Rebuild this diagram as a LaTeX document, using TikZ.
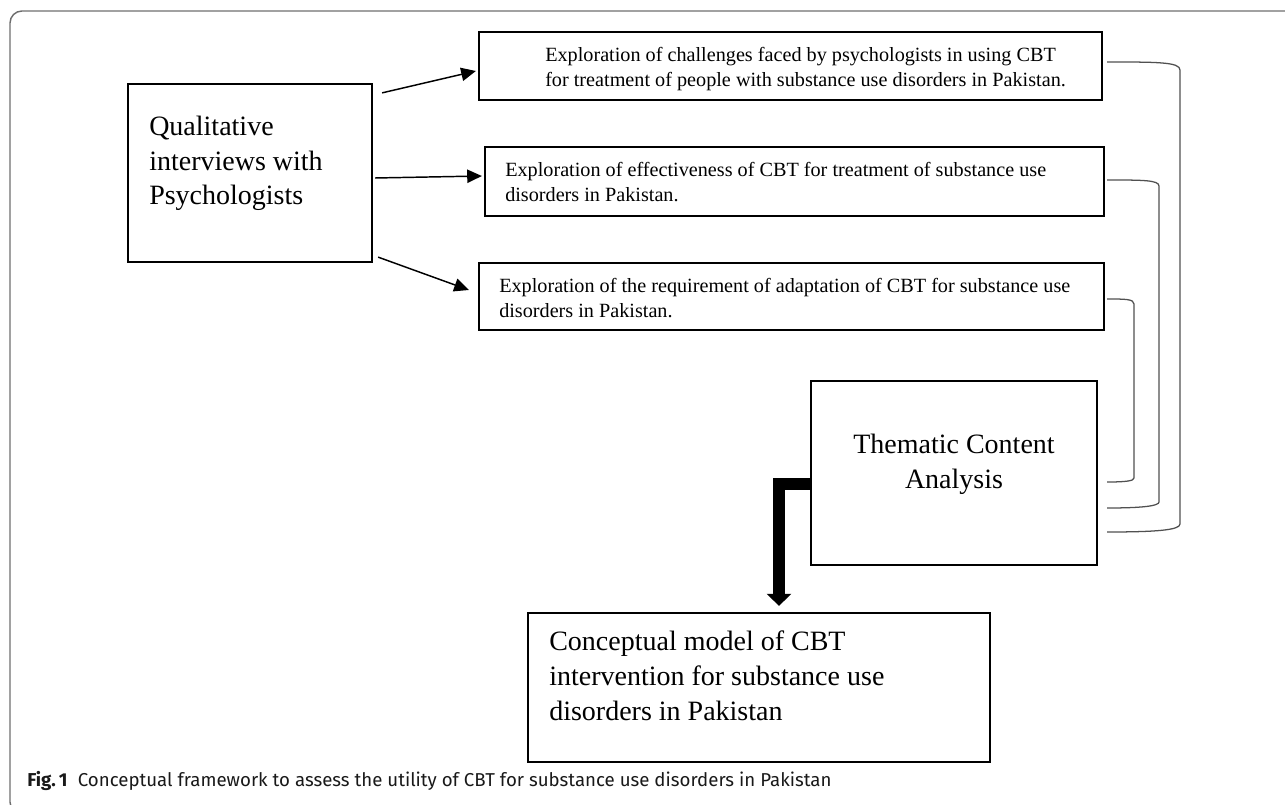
\documentclass[tikz,border=0pt]{standalone}
\usepackage{fontspec}
\setmainfont{Liberation Serif}
\newfontfamily\capfont{Fira Sans}
\usetikzlibrary{arrows.meta,calc,fit}
\definecolor{framecol}{HTML}{6E6E6E}
\definecolor{bracketcol}{HTML}{505050}
\begin{document}
\begin{tikzpicture}[x=0.75pt,y=-0.75pt,
  box/.style={draw=black,line width=1.7pt,inner sep=0pt,fit={#1}},
  bigtxt/.style={font=\fontsize{21}{26.1}\selectfont,inner sep=0pt,align=left},
  smalltxt/.style={font=\fontsize{15.15}{19}\selectfont,inner sep=0pt,align=left},
  thinarrow/.style={line width=1.1pt,-{Triangle[length=11pt,width=10pt]}},
  bracket/.style={draw=bracketcol,line width=0.95pt},
  bigarrow/.style={line width=9pt,-{Triangle[length=9pt,width=18pt]}}]
\useasboundingbox (0,0) rectangle (1285,805);
\clip (0,0) rectangle (1285,805);
% outer frame
\draw[framecol,line width=1.1pt,rounded corners=9pt] (10,11) rectangle (1310,814);
% boxes
\node[box={(128,84) (372,262)}] (q) {};
\node[box={(479,32) (1102,100)}] (b1) {};
\node[box={(485,147) (1104,216)}] (b2) {};
\node[box={(479,263) (1104,330)}] (b3) {};
\node[box={(811,381) (1097,565)}] (t) {};
\node[box={(528,613) (990,762)}] (c) {};
% texts (anchored at the baseline of their last line)
\node[bigtxt,anchor=base west] (qt) at (149,205) {Qualitative\\interviews with\\Psychologists};
\node[smalltxt,anchor=base west] (b1t) at (545,87) {Exploration of challenges faced by psychologists in using CBT\\for treatment of people with substance use disorders in Pakistan.};
\node[smalltxt,anchor=base west] (b2t) at (505,202) {Exploration of effectiveness of CBT for treatment of substance use\\disorders in Pakistan.};
\node[smalltxt,anchor=base west] (b3t) at (499,318) {Exploration of the requirement of adaptation of CBT for substance use\\disorders in Pakistan.};
\node[bigtxt,align=center,anchor=base] (tt) at (954,488) {Thematic Content\\Analysis};
\node[bigtxt,anchor=base west] (ct) at (549,720) {Conceptual model of CBT\\intervention for substance use\\disorders in Pakistan};
% caption
\node[anchor=base west,inner sep=0pt,font=\capfont\fontsize{14}{16}\selectfont,text=black!90] (cap) at (27,786) {\textbf{Fig.\,1}\hspace{0.55em}Conceptual framework to assess the utility of CBT for substance use disorders in Pakistan};
% arrows from q
\draw[thinarrow] ($(q.north east)+(9,10)$) -- ($(b1.west)+(-2,5)$);
\draw[thinarrow] ($(q.east)+(2,5)$) -- ($(b2.west)+(-2,-5.5)$);
\draw[thinarrow] ($(q.south east)+(5,-6)$) -- ($(b3.west)+(-9,-6.5)$);
% brackets
\coordinate (o1) at ($(b1.east)+(4,-4)$);
\coordinate (o2) at ($(t.east)+(9,59)$);
\coordinate (m1) at ($(b2.east)+(2,-1.5)$);
\coordinate (m2) at ($(t.east)+(9,35)$);
\coordinate (i1) at ($(b3.east)+(2,2.5)$);
\coordinate (i2) at ($(t.east)+(9,9)$);
\draw[bracket] (o1) .. controls ($(o1)+(50,0)$) and (1180,62) .. (1180,70) -- (1180,524) .. controls (1180,530) and ($(o2)+(50,0)$) .. (o2);
\draw[bracket] (m1) .. controls ($(m1)+(35,0)$) and (1159,180) .. (1159,186) -- (1159,502) .. controls (1159,506) and ($(m2)+(35,0)$) .. (m2);
\draw[bracket] (i1) .. controls ($(i1)+(18,0)$) and (1134,299) .. (1134,304) -- (1134,478) .. controls (1134,481) and ($(i2)+(18,0)$) .. (i2);
% thick L arrow
\draw[bigarrow] ($(t.west)+(0,11)$) -| ($(c.north)+(20,-6)$);
\end{tikzpicture}
\end{document}
